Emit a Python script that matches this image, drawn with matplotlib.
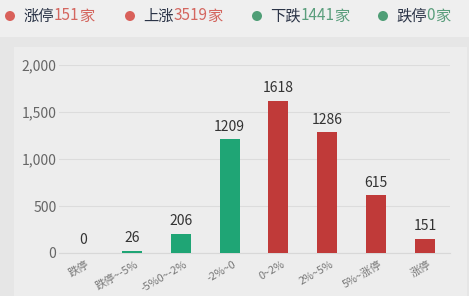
import matplotlib
matplotlib.use("Agg")
import matplotlib.pyplot as plt
from matplotlib.patches import Rectangle, Ellipse
from matplotlib.ticker import FuncFormatter
from matplotlib.transforms import ScaledTranslation

plt.rcParams['font.family'] = ['Noto Sans CJK SC', 'DejaVu Sans']

categories = ['跌停', '跌停~-5%', '-5%0~-2%', '-2%~0', '0~2%', '2%~5%', '5%~涨停', '涨停']
values = [0, 26, 206, 1209, 1618, 1286, 615, 151]
bar_colors = ['#1fa575'] * 4 + ['#c03a39'] * 4
yticks = [0, 500, 1000, 1500, 2000]

legend_labels = ['涨停', '上涨', '下跌', '跌停']
legend_counts = ['151', '3519', '1441', '0']
legend_dot_colors = ['#d9605a', '#d9605a', '#4f9e76', '#4f9e76']
legend_num_colors = ['#d4665f', '#d4665f', '#5a9e7c', '#5a9e7c']

W, H = 469, 296
fig = plt.figure(figsize=(W / 100, H / 100), dpi=100)
fig.patch.set_facecolor('#e6e6e6')

# background panels
fig.patches.append(Rectangle((0, 1 - 37 / H), 1, 37 / H, transform=fig.transFigure,
                             facecolor='#efefef', edgecolor='none', zorder=-5))
fig.patches.append(Rectangle((14 / W, 0), (467 - 14) / W, (H - 47) / H, transform=fig.transFigure,
                             facecolor='#ededed', edgecolor='none', zorder=-5))

ax = fig.add_axes([58.5 / W, 43 / H, (449.5 - 58.5) / W, (231 - 43) / H])
ax.set_zorder(2)
ax.set_facecolor('none')
x = list(range(len(categories)))
bars = ax.bar(x, values, width=0.41, color=bar_colors, zorder=3)
ax.set_xlim(-0.5, len(categories) - 0.5)
ax.set_ylim(0, 2000)
ax.set_yticks(yticks)
ax.yaxis.set_major_formatter(FuncFormatter(lambda v, p: f'{int(v):,}'))
ax.grid(axis='y', color='#dcdcdc', linewidth=0.8, zorder=0)
for s in ax.spines.values():
    s.set_visible(False)
ax.spines['bottom'].set_visible(True)
ax.spines['bottom'].set_color('#d8d8d8')
ax.tick_params(axis='both', length=0)
ax.tick_params(axis='y', labelsize=10, labelcolor='#666666', pad=1.5)
ax.set_xticks(x)
ax.set_xticklabels(categories, rotation=30, ha='right', rotation_mode='anchor',
                   fontsize=7.8, color='#777777')
ax.tick_params(axis='x', pad=4.5)
offset = ScaledTranslation(3 / 100, 0, fig.dpi_scale_trans)
for lbl in ax.get_xticklabels():
    lbl.set_transform(lbl.get_transform() + offset)

for xi, v in zip(x, values):
    ax.annotate(str(v), (xi, v), xytext=(0, 4), textcoords='offset points',
                ha='center', va='bottom', fontsize=10, color='#333333')

# legend
fig.canvas.draw()
renderer = fig.canvas.get_renderer()
starts = [23, 143, 270, 396]
ymid = 1 - 16 / H
for i in range(4):
    cx = starts[i] - 13
    fig.patches.append(Ellipse((cx / W, ymid), 10 / W, 10 / H, transform=fig.transFigure,
                               facecolor=legend_dot_colors[i], edgecolor='none', zorder=3))
    cur = starts[i]
    for txt, col in [(legend_labels[i], '#2b3447'), (legend_counts[i], legend_num_colors[i]),
                     ('家', legend_num_colors[i])]:
        t = fig.text(cur / W, ymid, txt, fontsize=11, color=col, ha='left', va='center')
        bb = t.get_window_extent(renderer)
        cur += bb.width

fig.savefig('out.png', dpi=100, facecolor=fig.get_facecolor())
